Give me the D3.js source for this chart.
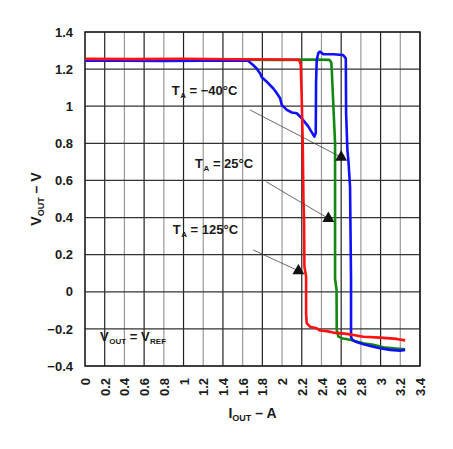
<!DOCTYPE html>
<html>
<head>
<meta charset="utf-8">
<script src="https://cdn.jsdelivr.net/npm/d3@7"></script>
<style>
  body { margin: 0; background: #fff; }
  svg text { font-family: "Liberation Sans", Arial, sans-serif; font-weight: bold; fill: #1a1a1a; }
</style>
</head>
<body>
<svg id="chart"></svg>
<script>
// Output current in A, output voltage in V
var coldX = [0, 0.4, 0.8, 1.2, 1.5, 1.655, 1.706, 1.74, 1.777, 1.794, 1.845, 1.909, 1.94, 1.98, 1.997, 2.048, 2.1, 2.149, 2.2, 2.267, 2.328, 2.342, 2.345, 2.352, 2.369, 2.386, 2.416, 2.518, 2.619, 2.647, 2.65, 2.663, 2.673, 2.69, 2.70, 2.70, 2.712, 2.741, 2.826, 2.927, 2.995, 3.096, 3.198, 3.249];
var coldY = [1.245, 1.246, 1.244, 1.246, 1.245, 1.245, 1.222, 1.205, 1.177, 1.156, 1.132, 1.097, 1.075, 1.043, 1.007, 0.98, 0.966, 0.962, 0.935, 0.89, 0.836, 0.856, 1.125, 1.249, 1.288, 1.294, 1.281, 1.28, 1.276, 1.258, 0.964, 0.764, 0.71, 0.566, 0.06, -0.242, -0.258, -0.268, -0.283, -0.296, -0.304, -0.313, -0.317, -0.313];

var roomX = [0, 0.5, 1.0, 1.5, 2.0, 2.3, 2.48, 2.50, 2.505, 2.521, 2.538, 2.538, 2.553, 2.555, 2.572, 2.606, 2.69, 2.825, 2.927, 3.028, 3.13, 3.249];
var roomY = [1.25, 1.251, 1.25, 1.251, 1.25, 1.252, 1.25, 1.235, 1.19, 1.0, 0.80, 0.07, 0.01, -0.206, -0.242, -0.25, -0.259, -0.277, -0.286, -0.299, -0.304, -0.31];

var hotX = [0, 0.5, 1.0, 1.5, 2.0, 2.173, 2.19, 2.2, 2.21, 2.217, 2.223, 2.227, 2.244, 2.244, 2.25, 2.267, 2.284, 2.352, 2.386, 2.454, 2.52, 2.657, 2.724, 2.825, 2.995, 3.165, 3.249];
var hotY = [1.255, 1.254, 1.256, 1.253, 1.252, 1.25, 1.225, 1.034, 0.80, 0.495, 0.40, 0.135, 0.082, -0.116, -0.169, -0.179, -0.188, -0.197, -0.209, -0.212, -0.22, -0.227, -0.233, -0.242, -0.247, -0.254, -0.262];

var seriesNames = ["\u221240\u00b0C", "25\u00b0C", "125\u00b0C"];
var seriesColors = ["#1010ff", "#118811", "#ff1111"];

// annotation: label corner, leader start, arrow tip (data units)
var labelX = [0.88, 1.117, 0.89];
var labelY = [1.087, 0.694, 0.333];
var leaderX = [1.675, 1.838, 1.709];
var leaderY = [0.98, 0.593, 0.225];
var tipX = [2.6, 2.47, 2.166];
var tipY = [0.725, 0.395, 0.113];

var xTicks = [0, 0.2, 0.4, 0.6, 0.8, 1, 1.2, 1.4, 1.6, 1.8, 2, 2.2, 2.4, 2.6, 2.8, 3, 3.2, 3.4];
var yTicks = [-0.4, -0.2, 0, 0.2, 0.4, 0.6, 0.8, 1, 1.2, 1.4];

var svgWidth = 453;
var svgHeight = 449;
var margin = { top: 32, right: 33, bottom: 83, left: 85 };
var chartWidth = svgWidth - margin.left - margin.right;
var chartHeight = svgHeight - margin.top - margin.bottom;

var svg = d3.select("#chart")
  .attr("width", svgWidth)
  .attr("height", svgHeight);

var chart = svg.append("g")
  .attr("transform", "translate(" + margin.left + "," + margin.top + ")");

var xScale = d3.scaleLinear().domain([0, 3.4]).range([0, chartWidth]);
var yScale = d3.scaleLinear().domain([-0.4, 1.4]).range([chartHeight, 0]);

// grid
chart.selectAll(".vgrid")
  .data(xTicks)
  .enter()
  .append("line")
  .attr("x1", function (d) { return xScale(d); })
  .attr("x2", function (d) { return xScale(d); })
  .attr("y1", 0)
  .attr("y2", chartHeight)
  .attr("stroke", function (d, i) { return i % 2 === 0 ? "#999" : "#222"; })
  .attr("stroke-width", 1.2);

chart.selectAll(".hgrid")
  .data(yTicks)
  .enter()
  .append("line")
  .attr("x1", 0)
  .attr("x2", chartWidth)
  .attr("y1", function (d) { return yScale(d); })
  .attr("y2", function (d) { return yScale(d); })
  .attr("stroke", "#333")
  .attr("stroke-width", 1.2);

chart.append("rect")
  .attr("width", chartWidth)
  .attr("height", chartHeight)
  .attr("fill", "none")
  .attr("stroke", "#222")
  .attr("stroke-width", 1.5);

// axes, labels only
var yAxis = chart.append("g")
  .call(d3.axisLeft(yScale).tickValues(yTicks).tickSize(0).tickPadding(12)
    .tickFormat(function (d) { return d3.format("")(+d.toFixed(1)); }));
yAxis.select(".domain").remove();
yAxis.selectAll("text").style("font-size", "13px").attr("fill", "#1a1a1a");

var xAxis = chart.append("g")
  .attr("transform", "translate(0," + chartHeight + ")")
  .call(d3.axisBottom(xScale).tickValues(xTicks).tickSize(0)
    .tickFormat(function (d) { return d3.format("")(+d.toFixed(1)); }));
xAxis.select(".domain").remove();
xAxis.selectAll("text")
  .style("font-size", "13px")
  .attr("fill", "#1a1a1a")
  .style("text-anchor", "end")
  .attr("transform", "rotate(-90)")
  .attr("x", -12)
  .attr("y", 0)
  .attr("dy", "0.35em");

// curves
var line = d3.line()
  .x(function (d) { return xScale(d[0]); })
  .y(function (d) { return yScale(d[1]); });

var curves = [d3.zip(roomX, roomY), d3.zip(coldX, coldY), d3.zip(hotX, hotY)];
var curveColors = [seriesColors[1], seriesColors[0], seriesColors[2]];
curves.forEach(function (pts, i) {
  chart.append("path")
    .datum(pts)
    .attr("fill", "none")
    .attr("stroke", curveColors[i])
    .attr("stroke-width", 2.6)
    .attr("stroke-linejoin", "round")
    .attr("d", line);
});

// annotations
seriesNames.forEach(function (name, i) {
  chart.append("line")
    .attr("x1", xScale(leaderX[i]))
    .attr("y1", yScale(leaderY[i]))
    .attr("x2", xScale(tipX[i]))
    .attr("y2", yScale(tipY[i]))
    .attr("stroke", "#444")
    .attr("stroke-width", 0.8);

  chart.append("path")
    .attr("d", d3.symbol().type(d3.symbolTriangle).size(62)())
    .attr("transform", "translate(" + xScale(tipX[i]) + "," + yScale(tipY[i]) + ")")
    .attr("fill", "#111");

  var t = chart.append("text")
    .attr("x", xScale(labelX[i]))
    .attr("y", yScale(labelY[i]) + 4.5)
    .style("font-size", "13px");
  t.append("tspan").text("T");
  t.append("tspan").attr("dx", 0.5).attr("dy", 3).style("font-size", "8px").text("A");
  t.append("tspan").attr("dy", -3).text(" = " + name);
});

var vref = chart.append("text")
  .attr("x", 15)
  .attr("y", yScale(-0.24) + 4.5)
  .style("font-size", "13px");
vref.append("tspan").text("V");
vref.append("tspan").attr("dx", 0.5).attr("dy", 3).style("font-size", "8px").text("OUT");
vref.append("tspan").attr("dy", -3).text(" = V");
vref.append("tspan").attr("dx", 0.5).attr("dy", 3).style("font-size", "8px").text("REF");

// axis titles
var xt = svg.append("text")
  .attr("x", margin.left + chartWidth / 2)
  .attr("y", 418)
  .attr("text-anchor", "middle")
  .style("font-size", "14px");
xt.append("tspan").text("I");
xt.append("tspan").attr("dy", 3).style("font-size", "9px").text("OUT");
xt.append("tspan").attr("dy", -3).text(" \u2013 A");

var yt = svg.append("text")
  .attr("transform", "translate(41," + (margin.top + chartHeight / 2) + ") rotate(-90)")
  .attr("text-anchor", "middle")
  .style("font-size", "14px");
yt.append("tspan").text("V");
yt.append("tspan").attr("dy", 3).style("font-size", "9px").text("OUT");
yt.append("tspan").attr("dy", -3).text(" \u2013 V");
</script>
</body>
</html>
